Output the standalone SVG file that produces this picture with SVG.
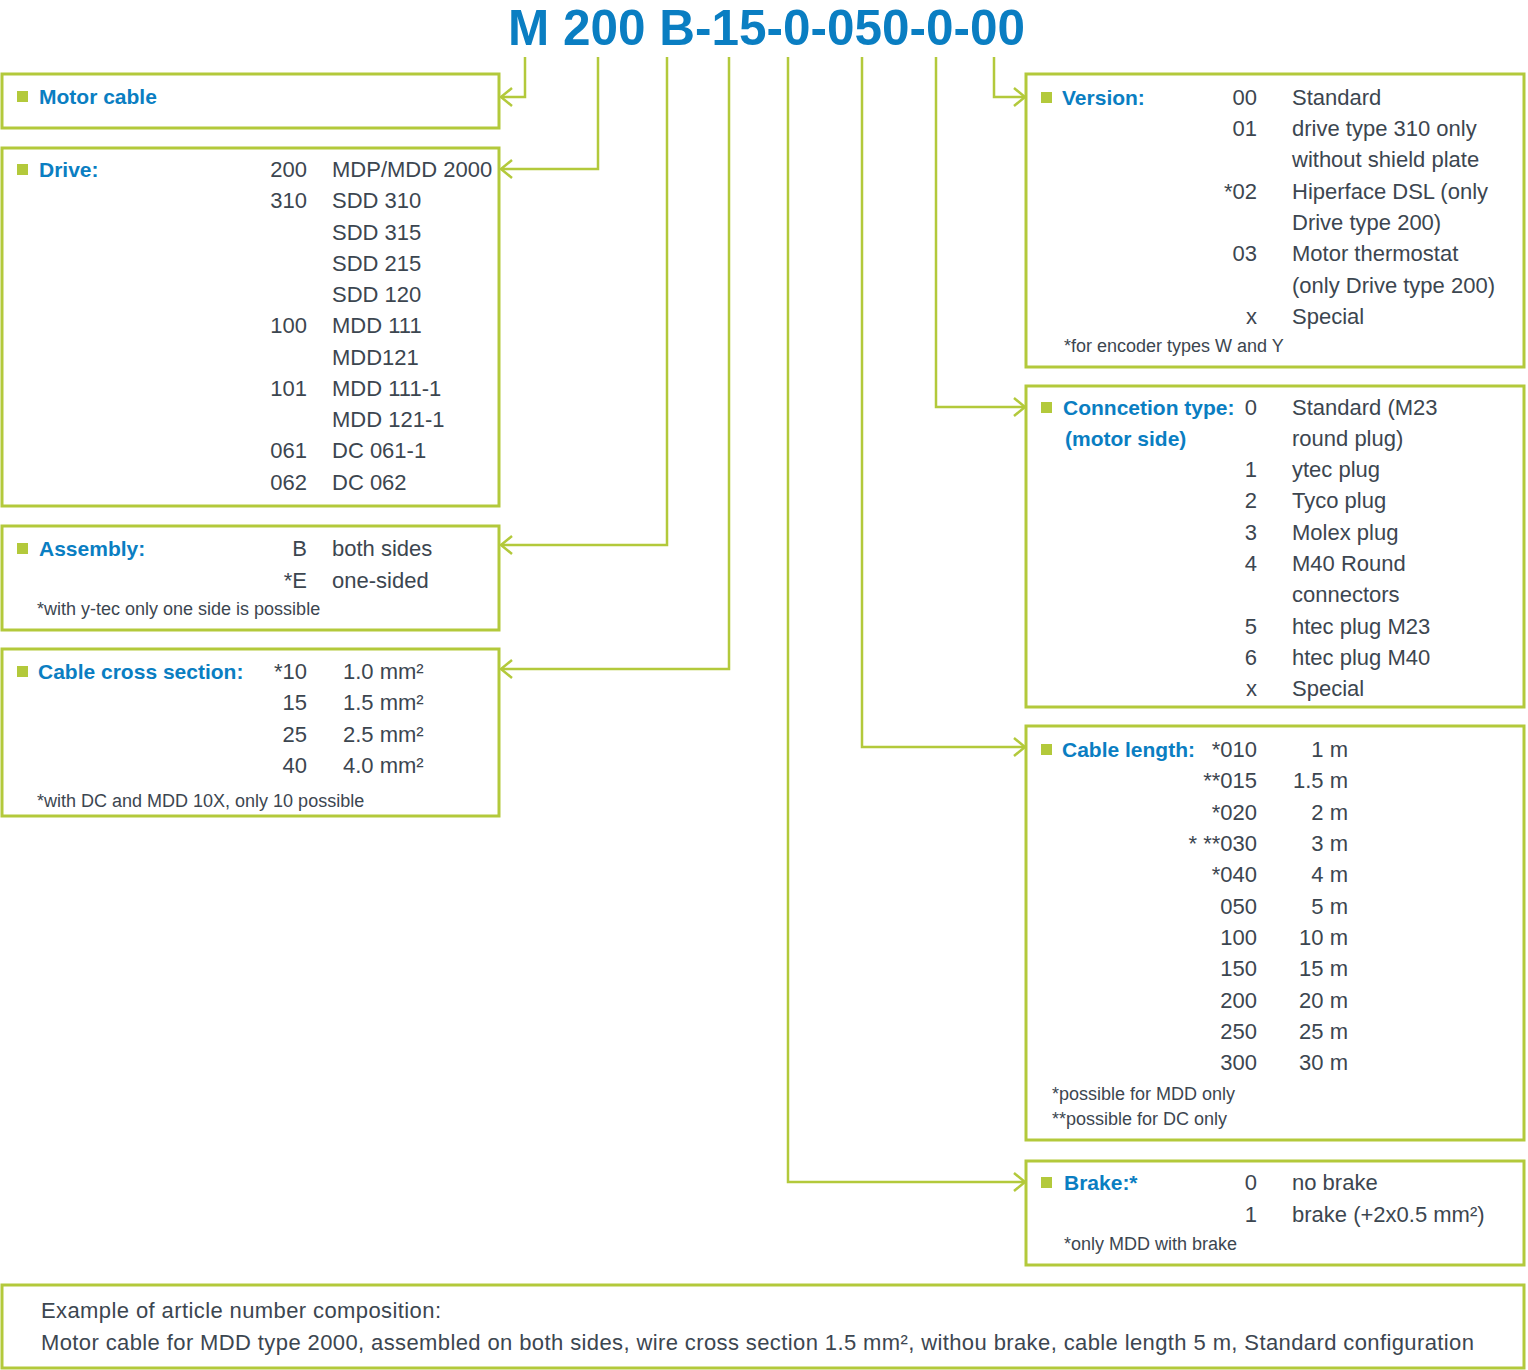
<svg xmlns="http://www.w3.org/2000/svg" width="1528" height="1370" viewBox="0 0 1528 1370">
<style>
.box{fill:#fff;stroke:#b3c93b;stroke-width:3}
.bul{fill:#b3c93b}
.hd{font-family:"Liberation Sans",Arial,sans-serif;font-weight:bold;font-size:21px;fill:#0a7ec2}
.t{font-family:"Liberation Sans",Arial,sans-serif;font-size:22px;fill:#3c4650}
.r{text-anchor:end}
.n{font-family:"Liberation Sans",Arial,sans-serif;font-size:18px;fill:#3c4650}
.con{fill:none;stroke:#b3c93b;stroke-width:2.5}
.title{font-family:"Liberation Sans",Arial,sans-serif;font-weight:bold;font-size:50px;fill:#0a7ec2}
</style>
<defs>
<marker id="arr" markerUnits="userSpaceOnUse" markerWidth="16" markerHeight="22" viewBox="0 0 16 22" refX="14" refY="11" orient="auto">
<path d="M3,2 L14,11 L3,20" fill="none" stroke="#b3c93b" stroke-width="2.5"/>
</marker>
</defs>
<rect width="1528" height="1370" fill="#fff"/>
<text class="title" x="508" y="45" textLength="517" lengthAdjust="spacingAndGlyphs">M 200 B-15-0-050-0-00</text>

<g id="connectors">
<path class="con" d="M525,57 V97 H501" marker-end="url(#arr)"/>
<path class="con" d="M598,57 V169 H501" marker-end="url(#arr)"/>
<path class="con" d="M667,57 V545 H501" marker-end="url(#arr)"/>
<path class="con" d="M729,57 V669 H501" marker-end="url(#arr)"/>
<path class="con" d="M788,57 V1182 H1025" marker-end="url(#arr)"/>
<path class="con" d="M862,57 V747 H1025" marker-end="url(#arr)"/>
<path class="con" d="M936,57 V407 H1025" marker-end="url(#arr)"/>
<path class="con" d="M994,57 V97 H1025" marker-end="url(#arr)"/>
</g>

<g id="motor-cable">
<rect class="box" x="2" y="74" width="497" height="54"/>
<rect class="bul" x="17" y="91" width="11" height="11"/>
<text class="hd" x="39" y="104">Motor cable</text>
</g>

<g id="drive">
<rect class="box" x="2" y="148" width="497" height="358"/>
<rect class="bul" x="17" y="164" width="11" height="11"/>
<text class="hd" x="39" y="177">Drive:</text>
<text class="t r" x="307" y="177">200</text><text class="t" x="332" y="177">MDP/MDD 2000</text>
<text class="t r" x="307" y="208">310</text><text class="t" x="332" y="208">SDD 310</text>
<text class="t" x="332" y="240">SDD 315</text>
<text class="t" x="332" y="271">SDD 215</text>
<text class="t" x="332" y="302">SDD 120</text>
<text class="t r" x="307" y="333">100</text><text class="t" x="332" y="333">MDD 111</text>
<text class="t" x="332" y="365">MDD121</text>
<text class="t r" x="307" y="396">101</text><text class="t" x="332" y="396">MDD 111-1</text>
<text class="t" x="332" y="427">MDD 121-1</text>
<text class="t r" x="307" y="458">061</text><text class="t" x="332" y="458">DC 061-1</text>
<text class="t r" x="307" y="490">062</text><text class="t" x="332" y="490">DC 062</text>
</g>

<g id="assembly">
<rect class="box" x="2" y="526" width="497" height="104"/>
<rect class="bul" x="17" y="543" width="11" height="11"/>
<text class="hd" x="39" y="556">Assembly:</text>
<text class="t r" x="307" y="556">B</text><text class="t" x="332" y="556">both sides</text>
<text class="t r" x="307" y="588">*E</text><text class="t" x="332" y="588">one-sided</text>
<text class="n" x="37" y="615">*with y-tec only one side is possible</text>
</g>

<g id="cable-cross-section">
<rect class="box" x="2" y="649" width="497" height="167"/>
<rect class="bul" x="17" y="666" width="11" height="11"/>
<text class="hd" x="38" y="679">Cable cross section:</text>
<text class="t r" x="307" y="679">*10</text><text class="t" x="343" y="679">1.0 mm²</text>
<text class="t r" x="307" y="710">15</text><text class="t" x="343" y="710">1.5 mm²</text>
<text class="t r" x="307" y="742">25</text><text class="t" x="343" y="742">2.5 mm²</text>
<text class="t r" x="307" y="773">40</text><text class="t" x="343" y="773">4.0 mm²</text>
<text class="n" x="37" y="807">*with DC and MDD 10X, only 10 possible</text>
</g>

<g id="version">
<rect class="box" x="1026" y="74" width="498" height="293"/>
<rect class="bul" x="1041" y="92" width="11" height="11"/>
<text class="hd" x="1062" y="105">Version:</text>
<text class="t r" x="1257" y="105">00</text><text class="t" x="1292" y="105">Standard</text>
<text class="t r" x="1257" y="136">01</text><text class="t" x="1292" y="136">drive type 310 only</text>
<text class="t" x="1292" y="167">without shield plate</text>
<text class="t r" x="1257" y="199">*02</text><text class="t" x="1292" y="199">Hiperface DSL (only</text>
<text class="t" x="1292" y="230">Drive type 200)</text>
<text class="t r" x="1257" y="261">03</text><text class="t" x="1292" y="261">Motor thermostat</text>
<text class="t" x="1292" y="293">(only Drive type 200)</text>
<text class="t r" x="1257" y="324">x</text><text class="t" x="1292" y="324">Special</text>
<text class="n" x="1064" y="352">*for encoder types W and Y</text>
</g>

<g id="connection-type">
<rect class="box" x="1026" y="386" width="498" height="321"/>
<rect class="bul" x="1041" y="402" width="11" height="11"/>
<text class="hd" x="1063" y="415">Conncetion type:</text>
<text class="hd" x="1065" y="446">(motor side)</text>
<text class="t r" x="1257" y="415">0</text><text class="t" x="1292" y="415">Standard (M23</text>
<text class="t" x="1292" y="446">round plug)</text>
<text class="t r" x="1257" y="477">1</text><text class="t" x="1292" y="477">ytec plug</text>
<text class="t r" x="1257" y="508">2</text><text class="t" x="1292" y="508">Tyco plug</text>
<text class="t r" x="1257" y="540">3</text><text class="t" x="1292" y="540">Molex plug</text>
<text class="t r" x="1257" y="571">4</text><text class="t" x="1292" y="571">M40 Round</text>
<text class="t" x="1292" y="602">connectors</text>
<text class="t r" x="1257" y="634">5</text><text class="t" x="1292" y="634">htec plug M23</text>
<text class="t r" x="1257" y="665">6</text><text class="t" x="1292" y="665">htec plug M40</text>
<text class="t r" x="1257" y="696">x</text><text class="t" x="1292" y="696">Special</text>
</g>

<g id="cable-length">
<rect class="box" x="1026" y="726" width="498" height="414"/>
<rect class="bul" x="1041" y="744" width="11" height="11"/>
<text class="hd" x="1062" y="757">Cable length:</text>
<text class="t r" x="1257" y="757">*010</text><text class="t r" x="1348" y="757">1 m</text>
<text class="t r" x="1257" y="788">**015</text><text class="t r" x="1348" y="788">1.5 m</text>
<text class="t r" x="1257" y="820">*020</text><text class="t r" x="1348" y="820">2 m</text>
<text class="t r" x="1257" y="851">* **030</text><text class="t r" x="1348" y="851">3 m</text>
<text class="t r" x="1257" y="882">*040</text><text class="t r" x="1348" y="882">4 m</text>
<text class="t r" x="1257" y="914">050</text><text class="t r" x="1348" y="914">5 m</text>
<text class="t r" x="1257" y="945">100</text><text class="t r" x="1348" y="945">10 m</text>
<text class="t r" x="1257" y="976">150</text><text class="t r" x="1348" y="976">15 m</text>
<text class="t r" x="1257" y="1008">200</text><text class="t r" x="1348" y="1008">20 m</text>
<text class="t r" x="1257" y="1039">250</text><text class="t r" x="1348" y="1039">25 m</text>
<text class="t r" x="1257" y="1070">300</text><text class="t r" x="1348" y="1070">30 m</text>
<text class="n" x="1052" y="1100">*possible for MDD only</text>
<text class="n" x="1052" y="1125">**possible for DC only</text>
</g>

<g id="brake">
<rect class="box" x="1026" y="1161" width="498" height="104"/>
<rect class="bul" x="1041" y="1177" width="11" height="11"/>
<text class="hd" x="1064" y="1190">Brake:*</text>
<text class="t r" x="1257" y="1190">0</text><text class="t" x="1292" y="1190">no brake</text>
<text class="t r" x="1257" y="1222">1</text><text class="t" x="1292" y="1222">brake (+2x0.5 mm²)</text>
<text class="n" x="1064" y="1250">*only MDD with brake</text>
</g>

<g id="example">
<rect class="box" x="2" y="1285" width="1522" height="83"/>
<text class="t" x="41" y="1318" textLength="400">Example of article number composition:</text>
<text class="t" x="41" y="1350" textLength="1433">Motor cable for MDD type 2000, assembled on both sides, wire cross section 1.5 mm², withou brake, cable length 5 m, Standard configuration</text>
</g>
</svg>
